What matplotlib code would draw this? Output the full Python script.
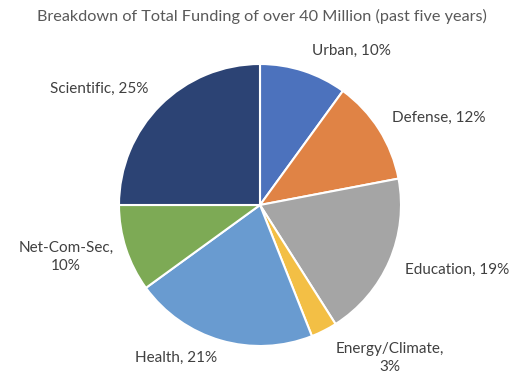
import matplotlib
matplotlib.use("Agg")
import matplotlib.pyplot as plt

categories = ["Urban", "Defense", "Education", "Energy/Climate", "Health", "Net-Com-Sec", "Scientific"]
shares = [10, 12, 19, 3, 21, 10, 25]
colors = ["#4C72BD", "#E08345", "#A5A5A5", "#F3BF45", "#699BD0", "#7DAA55", "#2C4374"]
title = "Breakdown of Total Funding of over 40 Million (past five years)"

# label centres in pixels (x, y from top), Excel-style outside labels
label_pos = [(351, 51), (439, 118), (457, 270), (390, 358), (176, 358), (66, 257), (99, 89)]
wrapped = {"Energy/Climate", "Net-Com-Sec"}

plt.rcParams['font.family'] = ['Lato', 'DejaVu Sans']

W, H = 522, 376
fig = plt.figure(figsize=(W / 100, H / 100), dpi=100)
ax = fig.add_axes([119 / W, 30 / H, 282 / W, 282 / H])
ax.pie(shares, colors=colors, startangle=90, counterclock=False,
       wedgeprops=dict(edgecolor="white", linewidth=1.5))
ax.set_xlim(-1.0, 1.0)
ax.set_ylim(-1.0, 1.0)
ax.set_aspect("equal")
ax.axis("off")

for cat, val, (px, py) in zip(categories, shares, label_pos):
    sep = ",\n" if cat in wrapped else ", "
    fig.text(px / W, 1 - py / H, f"{cat}{sep}{val}%", ha="center", va="center",
             fontsize=11, color="#404040", linespacing=1.3)

fig.text(262 / W, 1 - 16 / H, title, ha="center", va="center", fontsize=11.7, color="#595959")

fig.savefig("out.png", dpi=100)
